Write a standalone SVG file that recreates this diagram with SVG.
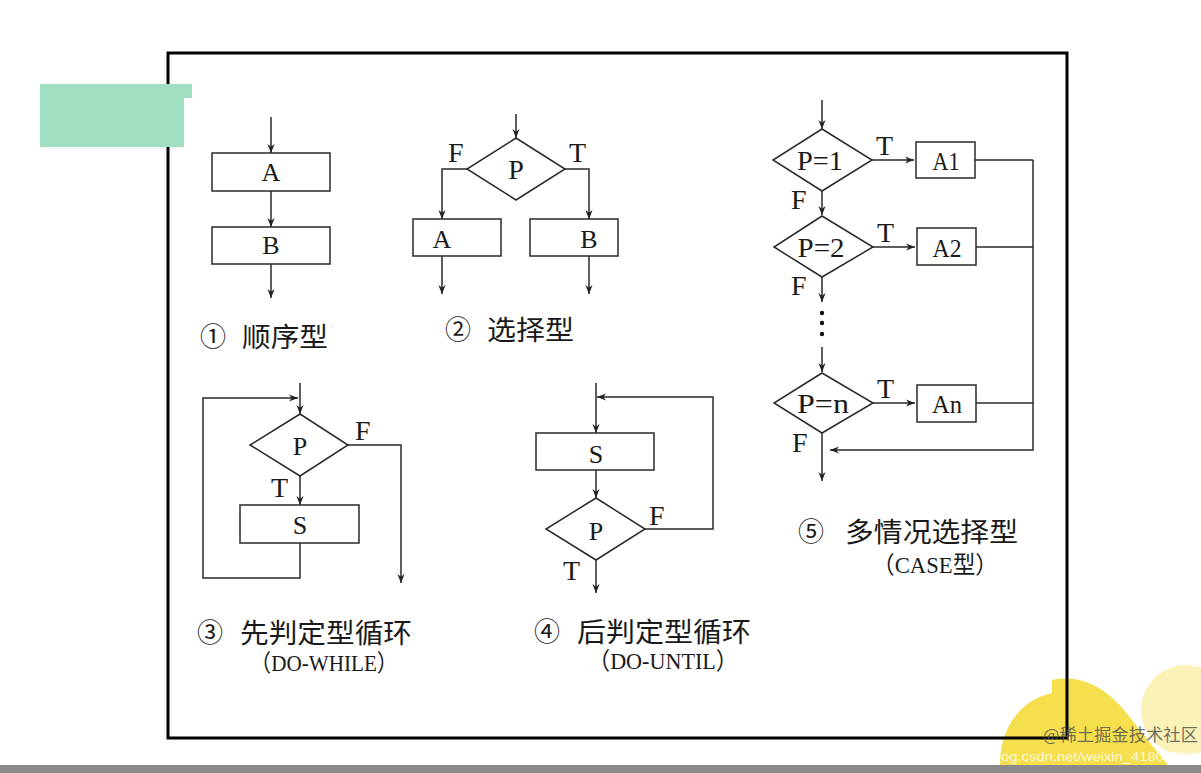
<svg xmlns="http://www.w3.org/2000/svg" width="1201" height="773" viewBox="0 0 1201 773">
<style>
.ln{fill:none;stroke:#2a2a2a;stroke-width:1.5}
.bx{fill:#fff;stroke:#2a2a2a;stroke-width:1.5}
.lt{font-family:"Liberation Serif",serif;font-size:26px;fill:#1a1a1a;text-anchor:middle}
.ft{font-family:"Liberation Serif",serif;font-size:28px;fill:#1a1a1a}
.cj{font-family:"Noto Sans CJK SC",sans-serif;font-size:27px;fill:#1a1a1a}
.cn{font-family:"Noto Sans CJK SC",sans-serif;font-size:26px;fill:#1a1a1a;text-anchor:middle}
.pr{font-family:"Liberation Serif","Noto Sans CJK SC",serif;font-size:24px;fill:#1a1a1a}
</style>
<defs>
<marker id="ah" viewBox="0 0 10 10" refX="10" refY="5" markerWidth="9" markerHeight="9" markerUnits="userSpaceOnUse" orient="auto">
<path d="M0,1 L10,5 L0,9 L3,5 Z" fill="#222"/>
</marker>
</defs>
<rect width="1201" height="773" fill="#fff"/>
<!-- decorative bottom right -->
<circle cx="1186" cy="710" r="45" fill="#fbf2b8"/>
<path d="M1000,765 C1000,728 1020,700 1052,693 L1052,680 C1092,672 1118,700 1138,728 L1168,765 Z" fill="#f5df4c"/>
<rect x="0" y="765" width="1201" height="8" fill="#8a8a8a"/>
<!-- frame -->
<rect x="168" y="53" width="899" height="685" fill="none" stroke="#000" stroke-width="3"/>
<polygon points="40,84 192,84 192,98 184,98 184,147 40,147" fill="#a0dfc1"/>

<g id="connectors">
<!-- sequence -->
<line class="ln" x1="271" y1="117" x2="271" y2="153" marker-end="url(#ah)"/>
<line class="ln" x1="271" y1="191" x2="271" y2="227" marker-end="url(#ah)"/>
<line class="ln" x1="271" y1="264" x2="271" y2="298" marker-end="url(#ah)"/>
<!-- selection -->
<line class="ln" x1="516" y1="114" x2="516" y2="138" marker-end="url(#ah)"/>
<polyline class="ln" points="467,169 442,169 442,219" marker-end="url(#ah)"/>
<polyline class="ln" points="565,169 589,169 589,219" marker-end="url(#ah)"/>
<line class="ln" x1="442" y1="256" x2="442" y2="294" marker-end="url(#ah)"/>
<line class="ln" x1="589" y1="256" x2="589" y2="294" marker-end="url(#ah)"/>
<!-- do-while -->
<line class="ln" x1="300" y1="383" x2="300" y2="414" marker-end="url(#ah)"/>
<polyline class="ln" points="300,543 300,578 203,578 203,398 298,398" marker-end="url(#ah)"/>
<polyline class="ln" points="348,445 401,445 401,583" marker-end="url(#ah)"/>
<line class="ln" x1="300" y1="476" x2="300" y2="505" marker-end="url(#ah)"/>
<!-- do-until -->
<line class="ln" x1="596" y1="383" x2="596" y2="433" marker-end="url(#ah)"/>
<line class="ln" x1="596" y1="470" x2="596" y2="498" marker-end="url(#ah)"/>
<polyline class="ln" points="645,529 713,529 713,397 597,397" marker-end="url(#ah)"/>
<line class="ln" x1="596" y1="560" x2="596" y2="593" marker-end="url(#ah)"/>
<!-- case -->
<line class="ln" x1="822" y1="100" x2="822" y2="129" marker-end="url(#ah)"/>
<line class="ln" x1="872" y1="160" x2="914" y2="160" marker-end="url(#ah)"/>
<line class="ln" x1="822" y1="191" x2="822" y2="215" marker-end="url(#ah)"/>
<line class="ln" x1="873" y1="247" x2="915" y2="247" marker-end="url(#ah)"/>
<line class="ln" x1="822" y1="277" x2="822" y2="302" marker-end="url(#ah)"/>
<line class="ln" x1="822" y1="347" x2="822" y2="372" marker-end="url(#ah)"/>
<line class="ln" x1="873" y1="403" x2="915" y2="403" marker-end="url(#ah)"/>
<line class="ln" x1="822" y1="433" x2="822" y2="481" marker-end="url(#ah)"/>
<line class="ln" x1="975" y1="160" x2="1033" y2="160"/>
<line class="ln" x1="976" y1="247" x2="1033" y2="247"/>
<line class="ln" x1="976" y1="403" x2="1033" y2="403"/>
<polyline class="ln" points="1033,160 1033,450 830,450" marker-end="url(#ah)"/>
<circle cx="822" cy="313" r="2.2" fill="#111"/>
<circle cx="822" cy="323" r="2.2" fill="#111"/>
<circle cx="822" cy="334" r="2.2" fill="#111"/>
</g>

<g id="seq-A"><rect class="bx" x="212" y="153" width="118" height="38"/><text class="lt" x="271" y="181">A</text></g>
<g id="seq-B"><rect class="bx" x="212" y="227" width="118" height="37"/><text class="lt" x="271" y="254">B</text></g>
<g id="label-1"><text class="cn" x="213" y="346">①</text><text class="cj" x="242" y="347" textLength="86" lengthAdjust="spacingAndGlyphs">顺序型</text></g>

<g id="sel-P"><polygon class="bx" points="516,138 565,169 516,200 467,169"/><text class="lt" x="516" y="179" style="font-size:28px">P</text></g>
<g id="sel-labels"><text class="ft" x="448" y="162">F</text><text class="ft" x="569" y="162">T</text></g>
<g id="sel-A"><rect class="bx" x="413" y="219" width="88" height="37"/><text class="lt" x="442" y="248">A</text></g>
<g id="sel-B"><rect class="bx" x="530" y="219" width="88" height="37"/><text class="lt" x="589" y="248">B</text></g>
<g id="label-2"><text class="cn" x="458" y="339">②</text><text class="cj" x="487" y="340" textLength="87" lengthAdjust="spacingAndGlyphs">选择型</text></g>

<g id="dw-P"><polygon class="bx" points="300,414 348,445 300,476 250,445"/><text class="lt" x="300" y="455">P</text></g>
<g id="dw-labels"><text class="ft" x="355" y="440">F</text><text class="ft" x="271" y="497">T</text></g>
<g id="dw-S"><rect class="bx" x="240" y="505" width="119" height="38"/><text class="lt" x="300" y="534">S</text></g>
<g id="label-3"><text class="cn" x="210" y="642">③</text><text class="cj" x="240" y="643" textLength="172" lengthAdjust="spacingAndGlyphs">先判定型循环</text><text class="pr" x="250" y="671" textLength="148" lengthAdjust="spacingAndGlyphs">（DO-WHILE）</text></g>

<g id="du-S"><rect class="bx" x="536" y="433" width="118" height="37"/><text class="lt" x="596" y="463">S</text></g>
<g id="du-P"><polygon class="bx" points="596,498 645,529 596,560 546,529"/><text class="lt" x="596" y="540">P</text></g>
<g id="du-labels"><text class="ft" x="649" y="525">F</text><text class="ft" x="563" y="580">T</text></g>
<g id="label-4"><text class="cn" x="547" y="641">④</text><text class="cj" x="577" y="642" textLength="174" lengthAdjust="spacingAndGlyphs">后判定型循环</text><text class="pr" x="588" y="669" textLength="150" lengthAdjust="spacingAndGlyphs">（DO-UNTIL）</text></g>

<g id="case-P1"><polygon class="bx" points="822,129 872,160 822,191 773,160"/><text class="lt" x="820" y="170" style="font-size:28px" textLength="46" lengthAdjust="spacingAndGlyphs">P=1</text></g>
<g id="case-A1"><rect class="bx" x="916" y="142" width="59" height="36"/><text class="lt" x="946" y="170" textLength="27" lengthAdjust="spacingAndGlyphs">A1</text></g>
<g id="case-P2"><polygon class="bx" points="822,216 873,247 822,277 774,247"/><text class="lt" x="821" y="257" style="font-size:28px" textLength="47" lengthAdjust="spacingAndGlyphs">P=2</text></g>
<g id="case-A2"><rect class="bx" x="917" y="228" width="59" height="37"/><text class="lt" x="947" y="257" textLength="29" lengthAdjust="spacingAndGlyphs">A2</text></g>
<g id="case-Pn"><polygon class="bx" points="822,373 873,403 822,433 774,403"/><text class="lt" x="823" y="413" style="font-size:28px" textLength="52" lengthAdjust="spacingAndGlyphs">P=n</text></g>
<g id="case-An"><rect class="bx" x="917" y="385" width="59" height="37"/><text class="lt" x="947" y="413" textLength="30" lengthAdjust="spacingAndGlyphs">An</text></g>
<g id="case-labels">
<text class="ft" x="876" y="155">T</text><text class="ft" x="791" y="209">F</text>
<text class="ft" x="877" y="242">T</text><text class="ft" x="791" y="295">F</text>
<text class="ft" x="877" y="398">T</text><text class="ft" x="792" y="452">F</text>
</g>
<g id="label-5"><text class="cn" x="811" y="541">⑤</text><text class="cj" x="845" y="542" textLength="173" lengthAdjust="spacingAndGlyphs">多情况选择型</text><text class="pr" x="872" y="573" textLength="126" lengthAdjust="spacingAndGlyphs">（CASE型）</text></g>

<g id="watermark">
<text x="945" y="761" font-family="Liberation Sans, sans-serif" font-size="13" fill="#ffffff" fill-opacity="0.8" textLength="252" lengthAdjust="spacingAndGlyphs">https://blog.csdn.net/weixin_41805792</text>
<text x="1043" y="741" font-family="Noto Sans CJK SC, sans-serif" font-size="17" fill="#555" fill-opacity="0.85" textLength="155" lengthAdjust="spacingAndGlyphs">@稀土掘金技术社区</text>
</g>
</svg>
